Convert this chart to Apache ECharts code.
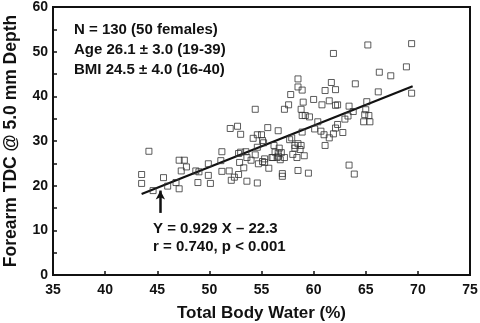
<!DOCTYPE html>
<html>
<head>
<meta charset="utf-8">
<script src="https://cdn.jsdelivr.net/npm/echarts@6/dist/echarts.min.js"></script>
<style>
  html, body { margin: 0; padding: 0; background: #fff; }
  #chart { width: 480px; height: 323px; }
</style>
</head>
<body>
<div id="chart"></div>
<script>
// Total body water (%) per subject
const tbw = [
  43.5, 43.5, 44.2, 44.6, 45.6, 46.0, 46.8, 47.1, 47.1, 47.3,
  47.6, 47.8, 48.7, 49.0, 48.9, 49.9, 49.9, 50.1, 51.2, 51.1,
  51.2, 51.9, 52.0, 52.1, 52.4, 52.7, 52.8, 52.8, 52.9, 53.0,
  53.0, 53.3, 53.5, 53.6, 53.6, 54.0, 54.2, 54.4, 54.4, 54.6,
  54.6, 54.6, 54.7, 55.0, 55.1, 55.2, 55.1, 55.3, 55.3, 55.6,
  55.7, 56.1, 56.2, 56.3, 56.5, 56.6, 56.6, 56.7, 56.8, 56.9,
  57.0, 57.0, 57.2, 57.2, 57.6, 57.7, 57.8, 57.9, 58.0, 58.2,
  58.4, 58.5, 58.5, 58.5, 58.5, 58.7, 58.8, 58.8, 58.9, 58.9,
  58.9, 59.0, 59.1, 59.2, 59.5, 59.6, 60.0, 60.1, 60.4, 60.7,
  60.8, 61.0, 61.1, 61.1, 61.5, 61.5, 61.7, 61.9, 61.9, 62.1,
  62.1, 62.1, 62.3, 62.3, 62.8, 63.0, 63.3, 63.4, 63.4, 63.8,
  63.9, 64.0, 64.8, 64.9, 65.0, 65.1, 65.2, 65.3, 65.4, 66.2,
  66.3, 67.4, 68.9, 69.4, 69.4, 56.6, 58.2, 56.0
];
// Forearm TDC at 5.0 mm depth per subject
const tdc = [
  22.5, 20.5, 27.7, 18.9, 21.8, 19.9, 20.7, 19.3, 25.7, 23.3,
  25.7, 24.2, 23.3, 23.1, 20.7, 24.9, 22.3, 20.5, 27.6, 25.6,
  23.2, 23.3, 32.8, 21.2, 21.9, 33.3, 27.2, 22.5, 25.2, 31.5,
  27.5, 24.0, 27.6, 26.3, 21.0, 25.7, 30.6, 37.1, 26.9, 28.6,
  31.4, 20.6, 24.9, 31.4, 30.1, 29.6, 25.4, 26.0, 25.2, 33.0,
  23.9, 26.3, 29.0, 27.5, 26.3, 32.3, 26.6, 28.4, 25.8, 27.4,
  22.1, 22.7, 26.3, 37.1, 38.1, 30.3, 40.4, 30.7, 27.0, 29.0,
  26.3, 43.9, 42.1, 23.4, 29.4, 28.1, 37.1, 29.0, 41.4, 35.7,
  32.0, 38.7, 26.7, 35.7, 22.8, 35.4, 39.3, 32.7, 34.3, 32.2,
  38.1, 31.4, 29.0, 41.3, 39.0, 30.7, 43.1, 49.6, 31.6, 38.0,
  32.9, 41.5, 33.7, 38.1, 31.9, 34.9, 35.6, 37.8, 24.6, 36.6,
  22.6, 42.8, 34.3, 35.9, 37.0, 38.8, 51.5, 35.7, 34.3, 41.0,
  45.4, 44.6, 46.6, 51.8, 40.7, 27.3, 28.4, 26.3
];

// Least-squares fit: Y = 0.929 X - 22.3, drawn over the observed range
const fitSlope = 0.929;
const fitIntercept = -22.3;
const fitRange = [43.5, 69.5];

// Arrow pointing at the fitted line
const arrowX = 45.3;
const arrowY = [13.9, 18.9];

const summaryLines = [
  'N = 130 (50 females)',
  'Age 26.1 \u00b1 3.0 (19-39)',
  'BMI 24.5 \u00b1 4.0 (16-40)'
];
const fitLines = [
  'Y = 0.929 X \u2013 22.3',
  'r = 0.740, p < 0.001'
];

const points = tbw.map((x, i) => [x, tdc[i]]);
const fitPoints = fitRange.map(x => [x, +(fitSlope * x + fitIntercept).toFixed(3)]);

const FONT = '"Liberation Sans", Arial, sans-serif';
const INK = '#111';

const chart = echarts.init(document.getElementById('chart'), null, { renderer: 'canvas' });

const textStyle = { fontFamily: FONT, fontWeight: 'bold', fontSize: 15, fill: INK };

chart.setOption({
  animation: false,
  backgroundColor: '#fff',
  grid: {
    left: 53, right: 10, top: 7, bottom: 48,
    outerBoundsMode: 'none',
    show: true, borderColor: INK, borderWidth: 2, backgroundColor: 'transparent'
  },
  xAxis: {
    type: 'value', min: 35, max: 75, interval: 5,
    name: 'Total Body Water (%)',
    nameLocation: 'middle', nameGap: 30,
    nameTextStyle: { fontFamily: FONT, fontWeight: 'bold', fontSize: 17, color: INK },
    axisLine: { show: true, lineStyle: { color: INK, width: 2 } },
    axisTick: { show: true, inside: true, length: 4, lineStyle: { color: INK, width: 1.5 } },
    axisLabel: { fontFamily: FONT, fontWeight: 'bold', fontSize: 14, color: INK, margin: 8 },
    splitLine: { show: false }
  },
  yAxis: {
    type: 'value', min: 0, max: 60, interval: 10,
    name: 'Forearm TDC @ 5.0 mm Depth',
    nameLocation: 'middle', nameGap: 33,
    nameTextStyle: { fontFamily: FONT, fontWeight: 'bold', fontSize: 17.5, color: INK },
    axisLine: { show: true, lineStyle: { color: INK, width: 2 } },
    axisTick: { show: true, inside: true, length: 4, lineStyle: { color: INK, width: 1.5 } },
    minorTick: { show: true, splitNumber: 2, length: 4, lineStyle: { color: INK, width: 1.5 } },
    axisLabel: { fontFamily: FONT, fontWeight: 'bold', fontSize: 14, color: INK, margin: 5 },
    splitLine: { show: false }
  },
  series: [
    {
      type: 'line',
      data: fitPoints,
      showSymbol: false,
      lineStyle: { color: INK, width: 2.2 },
      z: 2,
      markLine: {
        silent: true,
        symbol: ['none', 'arrow'],
        symbolSize: [7, 9],
        label: { show: false },
        lineStyle: { color: INK, width: 2.5, type: 'solid' },
        data: [[{ coord: [arrowX, arrowY[0]] }, { coord: [arrowX, arrowY[1]] }]]
      }
    },
    {
      type: 'scatter',
      data: points,
      symbol: 'rect',
      symbolSize: 6,
      itemStyle: { color: 'rgba(255,255,255,0)', borderColor: '#333', borderWidth: 1 },
      z: 3
    }
  ],
  graphic: [
    ...summaryLines.map((t, i) => ({
      type: 'text', left: 74, top: 22 + i * 20, style: Object.assign({ text: t }, textStyle)
    })),
    ...fitLines.map((t, i) => ({
      type: 'text', left: 153, top: 221 + i * 18, style: Object.assign({ text: t }, textStyle)
    }))
  ]
});
</script>
</body>
</html>
